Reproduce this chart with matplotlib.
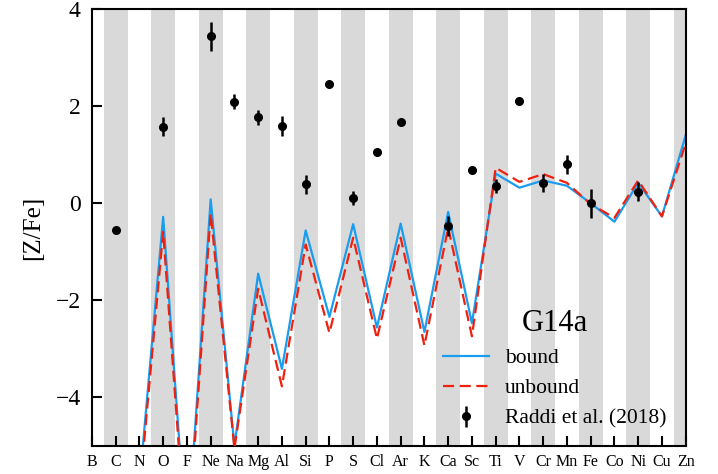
import numpy as np
import matplotlib
matplotlib.use("Agg")
from matplotlib import pyplot as plt

plt.rcParams['font.family'] = ['Liberation Serif', 'DejaVu Serif']

elements = ["B", "C", "N", "O", "F", "Ne", "Na", "Mg", "Al", "Si", "P", "S", "Cl",
            "Ar", "K", "Ca", "Sc", "Ti", "V", "Cr", "Mn", "Fe", "Co", "Ni", "Cu", "Zn"]

# model yields [Z/Fe]
bound = [-8.5, -7.5, -5.8, -0.28, -7.1, 0.08, -5.0, -1.45, -3.41, -0.56, -2.34, -0.43, -2.56,
         -0.42, -2.65, -0.18, -2.47, 0.61, 0.32, 0.47, 0.36, 0.0, -0.38, 0.42, -0.27, 1.40]
unbound = [-8.7, -7.7, -6.0, -0.59, -7.3, -0.21, -5.05, -1.76, -3.77, -0.85, -2.67, -0.71, -2.79,
           -0.71, -2.93, -0.50, -2.74, 0.73, 0.44, 0.60, 0.42, -0.02, -0.30, 0.47, -0.27, 1.23]

# Raddi et al. (2018) abundances
obs_el = ["C", "O", "Ne", "Na", "Mg", "Al", "Si", "P", "S", "Cl", "Ar",
          "Ca", "Sc", "Ti", "V", "Cr", "Mn", "Fe", "Ni"]
obs_val = [-0.56, 1.58, 3.44, 2.09, 1.77, 1.59, 0.39, 2.45, 0.11, 1.05, 1.67,
           -0.47, 0.69, 0.36, 2.10, 0.42, 0.80, 0.0, 0.24]
obs_err = [0.0, 0.2, 0.3, 0.15, 0.15, 0.2, 0.2, 0.0, 0.15, 0.0, 0.0,
           0.2, 0.0, 0.14, 0.0, 0.18, 0.2, 0.3, 0.2]

x = np.arange(len(elements))
obs_x = [elements.index(e) for e in obs_el]

fig = plt.figure(figsize=(7.18, 4.74), dpi=100)
ax = fig.add_axes([0.128, 0.059, 0.827, 0.922])

for i in range(1, len(elements), 2):
    ax.axvspan(i - 0.5, i + 0.5, color="#d9d9d9", lw=0, zorder=0)

ax.plot(x, bound, color="#1a9cef", lw=1.6, label="bound", zorder=2)
ax.plot(x, unbound, color="#f0200f", lw=1.6, ls=(0, (5, 2.5)), label="unbound", zorder=3)
ax.errorbar(obs_x, obs_val, yerr=obs_err, fmt="o", color="black", ms=5.5,
            elinewidth=1.8, capsize=0, label="Raddi et al. (2018)", zorder=4)

ax.set_xlim(0, len(elements) - 1)
ax.set_ylim(-5, 4)
ax.set_xticks(x)
ax.set_xticklabels(elements, fontsize=11.5)
ax.set_yticks([-4, -2, 0, 2, 4])
ax.tick_params(axis="y", direction="in", length=7, width=1.5, labelsize=17, pad=8)
ax.tick_params(axis="x", direction="in", length=7, width=1.5, pad=6)
for sp in ax.spines.values():
    sp.set_linewidth(1.5)
ax.set_ylabel("[Z/Fe]", fontsize=18, labelpad=8)

leg = ax.legend(loc="lower right", bbox_to_anchor=(1.0, -0.005), frameon=False,
                fontsize=15.5, title="G14a", title_fontsize=22,
                handlelength=2.1, handletextpad=0.75, labelspacing=0.48)

fig.savefig("out.png", dpi=100)
